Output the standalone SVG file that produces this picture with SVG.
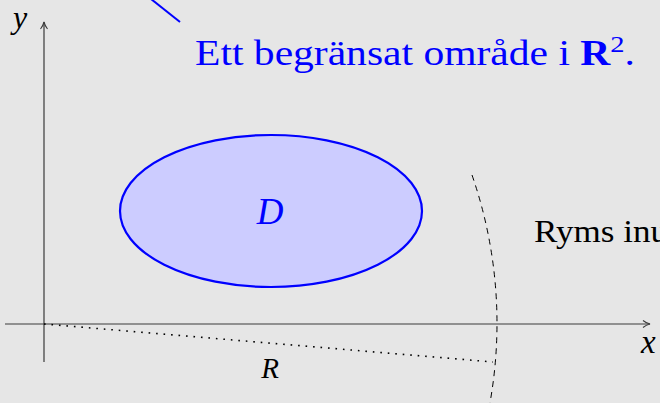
<svg xmlns="http://www.w3.org/2000/svg" width="660" height="403" viewBox="0 0 660 403">
<style>
.ax{stroke:#3a3a3a;stroke-width:1.2;fill:none}
.lbl{font-family:"Liberation Serif","DejaVu Serif",serif;fill:#000}
.it{font-style:italic}
.blue{fill:#0000ff}
</style>
<defs>
<marker id="arr" viewBox="0 0 10 10" refX="9" refY="5" markerWidth="10" markerHeight="10" markerUnits="userSpaceOnUse" orient="auto">
<path d="M2,1.5 Q5,4 9,5 Q5,6 2,8.5" fill="none" stroke="#3a3a3a" stroke-width="1.1"/>
</marker>
</defs>
<rect width="660" height="403" fill="#e6e6e6"/>
<g id="connectors">
<line class="ax" x1="5" y1="324" x2="650" y2="324" marker-end="url(#arr)"/>
<line class="ax" x1="44" y1="362" x2="44" y2="22" marker-end="url(#arr)"/>
<path d="M472,175 A453,453 0 0 1 487,418" fill="none" stroke="#000" stroke-width="1" stroke-dasharray="6 5"/>
<line x1="44" y1="324" x2="493" y2="362" stroke="#000" stroke-width="1.6" stroke-dasharray="1.6 5.9" stroke-linecap="butt"/>
<line x1="146" y1="-5" x2="180" y2="22" stroke="#0000ff" stroke-width="2"/>
</g>
<g id="region-D">
<ellipse cx="271" cy="211" rx="151" ry="76" fill="#ccccff" stroke="#0000ff" stroke-width="2.2"/>
<text class="lbl it blue" x="270" y="224" font-size="37" text-anchor="middle">D</text>
</g>
<g id="label-main">
<text class="lbl blue" x="195" y="65" font-size="35" textLength="440" lengthAdjust="spacingAndGlyphs">Ett begränsat område i <tspan font-weight="bold">R</tspan><tspan font-size="24" dy="-13">2</tspan><tspan dy="13">.</tspan></text>
</g>
<g id="label-ryms">
<text class="lbl" x="534" y="242" font-size="32" textLength="134" lengthAdjust="spacingAndGlyphs">Ryms inu</text>
</g>
<g id="axis-labels">
<text class="lbl it" x="13" y="28" font-size="32">y</text>
<text class="lbl it" x="641" y="353" font-size="33">x</text>
<text class="lbl it" x="270" y="378" font-size="29" text-anchor="middle">R</text>
</g>
</svg>
